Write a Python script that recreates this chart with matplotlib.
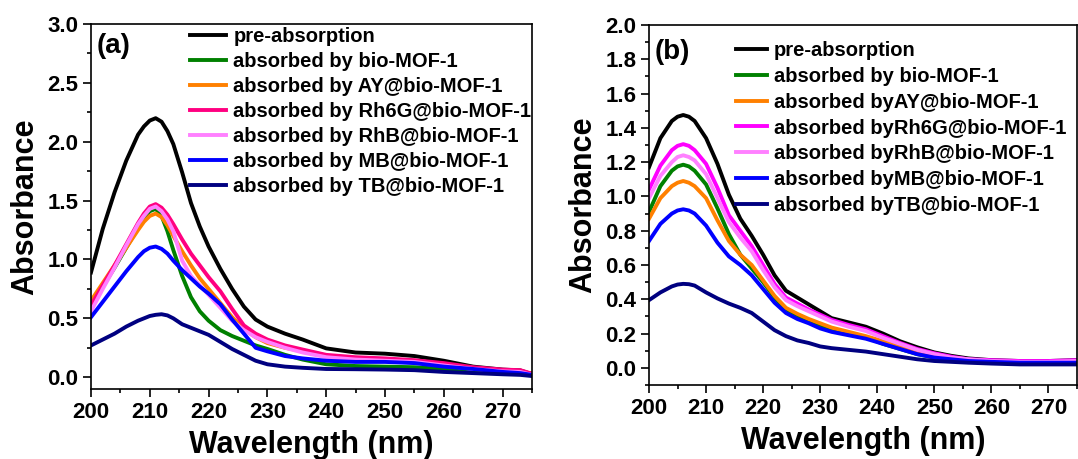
import matplotlib
matplotlib.use("Agg")
import matplotlib.pyplot as plt
from matplotlib.ticker import MultipleLocator, FormatStrFormatter

plt.rcParams['font.family'] = ['Liberation Sans', 'DejaVu Sans']
plt.rcParams['font.weight'] = 'bold'

# ---- panel (a) data ----
wl_a = [200, 202, 204, 206, 208, 209, 210, 211, 212, 213, 214, 215.5, 217, 218.5, 220,
        222, 224, 226, 228, 230, 233, 236, 240, 245, 250, 255, 260, 265, 270, 273, 275]
pre_a = [0.89, 1.26, 1.57, 1.84, 2.06, 2.13, 2.18, 2.20, 2.17, 2.09, 1.98, 1.74, 1.48, 1.28, 1.11,
         0.92, 0.75, 0.60, 0.49, 0.43, 0.37, 0.32, 0.245, 0.21, 0.20, 0.18, 0.14, 0.09, 0.065, 0.058, 0.025]
bio_a = [0.60, 0.77, 0.93, 1.10, 1.27, 1.35, 1.41, 1.43, 1.37, 1.24, 1.08, 0.86, 0.68, 0.56, 0.48,
         0.40, 0.35, 0.31, 0.27, 0.24, 0.19, 0.15, 0.11, 0.095, 0.09, 0.085, 0.07, 0.055, 0.04, 0.035, 0.035]
ay_a = [0.65, 0.80, 0.95, 1.10, 1.25, 1.32, 1.37, 1.39, 1.36, 1.29, 1.20, 1.07, 0.95, 0.84, 0.75,
        0.63, 0.51, 0.41, 0.34, 0.29, 0.25, 0.22, 0.18, 0.16, 0.15, 0.14, 0.11, 0.08, 0.06, 0.05, 0.03]
rh6g_a = [0.61, 0.78, 0.95, 1.13, 1.31, 1.39, 1.45, 1.47, 1.44, 1.38, 1.30, 1.17, 1.05, 0.95, 0.85,
          0.73, 0.58, 0.44, 0.37, 0.32, 0.27, 0.235, 0.19, 0.17, 0.16, 0.145, 0.12, 0.085, 0.065, 0.06, 0.03]
rhb_a = [0.56, 0.75, 0.93, 1.12, 1.30, 1.37, 1.43, 1.45, 1.41, 1.34, 1.24, 0.99, 0.86, 0.78, 0.70,
         0.59, 0.48, 0.40, 0.34, 0.30, 0.25, 0.21, 0.17, 0.15, 0.14, 0.13, 0.10, 0.07, 0.05, 0.045, 0.02]
mb_a = [0.51, 0.64, 0.77, 0.90, 1.02, 1.07, 1.10, 1.11, 1.09, 1.05, 0.99, 0.91, 0.84, 0.77, 0.71,
        0.62, 0.49, 0.37, 0.25, 0.22, 0.18, 0.16, 0.14, 0.13, 0.13, 0.12, 0.09, 0.07, 0.045, 0.035, 0.02]
tb_a = [0.27, 0.32, 0.37, 0.43, 0.48, 0.50, 0.52, 0.53, 0.535, 0.525, 0.50, 0.45, 0.42, 0.39, 0.36,
        0.30, 0.24, 0.19, 0.14, 0.11, 0.09, 0.08, 0.07, 0.068, 0.065, 0.06, 0.045, 0.035, 0.025, 0.02, 0.01]

# ---- panel (b) data ----
wl_b = [200, 202, 204, 205, 206, 207, 208, 210, 212, 214, 216, 218, 220, 222, 224, 226, 228,
        230, 232, 235, 238, 241, 244, 247, 250, 253, 256, 260, 265, 270, 275]
pre_b = [1.17, 1.34, 1.44, 1.465, 1.475, 1.465, 1.44, 1.34, 1.19, 1.01, 0.87, 0.77, 0.66, 0.54, 0.45, 0.41, 0.37,
         0.33, 0.29, 0.265, 0.24, 0.20, 0.155, 0.12, 0.09, 0.07, 0.055, 0.045, 0.04, 0.04, 0.045]
bio_b = [0.91, 1.06, 1.15, 1.175, 1.185, 1.175, 1.15, 1.07, 0.93, 0.78, 0.66, 0.58, 0.50, 0.41, 0.34, 0.30, 0.27,
         0.245, 0.22, 0.20, 0.18, 0.14, 0.11, 0.08, 0.06, 0.05, 0.04, 0.035, 0.03, 0.03, 0.03]
ay_b = [0.87, 0.99, 1.06, 1.08, 1.09, 1.08, 1.06, 0.99, 0.86, 0.74, 0.66, 0.60, 0.51, 0.42, 0.35, 0.315, 0.285,
        0.26, 0.235, 0.21, 0.185, 0.155, 0.125, 0.095, 0.07, 0.055, 0.045, 0.035, 0.03, 0.03, 0.035]
rh6g_b = [1.04, 1.18, 1.27, 1.295, 1.305, 1.295, 1.27, 1.19, 1.05, 0.89, 0.80, 0.71, 0.60, 0.49, 0.41, 0.375, 0.34,
          0.31, 0.28, 0.25, 0.225, 0.185, 0.145, 0.11, 0.085, 0.065, 0.05, 0.045, 0.04, 0.04, 0.045]
rhb_b = [0.99, 1.12, 1.20, 1.23, 1.24, 1.23, 1.21, 1.13, 0.99, 0.85, 0.76, 0.68, 0.57, 0.47, 0.395, 0.36, 0.33,
         0.30, 0.27, 0.24, 0.215, 0.175, 0.14, 0.105, 0.08, 0.06, 0.05, 0.04, 0.035, 0.035, 0.04]
mb_b = [0.74, 0.84, 0.90, 0.918, 0.925, 0.918, 0.90, 0.83, 0.73, 0.65, 0.60, 0.54, 0.46, 0.38, 0.32, 0.285, 0.26,
        0.23, 0.21, 0.19, 0.17, 0.14, 0.11, 0.08, 0.06, 0.05, 0.04, 0.035, 0.03, 0.03, 0.03]
tb_b = [0.395, 0.44, 0.475, 0.486, 0.49, 0.488, 0.48, 0.44, 0.405, 0.375, 0.35, 0.32, 0.27, 0.22, 0.185, 0.16, 0.145,
        0.125, 0.115, 0.105, 0.095, 0.08, 0.065, 0.05, 0.04, 0.035, 0.03, 0.025, 0.02, 0.02, 0.02]

labels_a = ["pre-absorption", "absorbed by bio-MOF-1", "absorbed by AY@bio-MOF-1",
            "absorbed by Rh6G@bio-MOF-1", "absorbed by RhB@bio-MOF-1",
            "absorbed by MB@bio-MOF-1", "absorbed by TB@bio-MOF-1"]
labels_b = ["pre-absorption", "absorbed by bio-MOF-1", "absorbed byAY@bio-MOF-1",
            "absorbed byRh6G@bio-MOF-1", "absorbed byRhB@bio-MOF-1",
            "absorbed byMB@bio-MOF-1", "absorbed byTB@bio-MOF-1"]
colors_a = ["#000000", "#008000", "#FF8000", "#FF0080", "#FF80FF", "#0000FF", "#000080"]
colors_b = ["#000000", "#008000", "#FF8000", "#FF00FF", "#FF80FF", "#0000FF", "#000080"]

fig = plt.figure(figsize=(10.78, 4.59), dpi=100)
ax1 = fig.add_axes([91/1078, 70/459, 441/1078, 365/459])
ax2 = fig.add_axes([649/1078, 74/459, 428/1078, 360/459])


def style_axis(ax, ymax, ymajor, yminor):
    ax.set_xlim(200, 275)
    ax.set_ylim(-0.1, ymax)
    ax.xaxis.set_major_locator(MultipleLocator(10))
    ax.xaxis.set_minor_locator(MultipleLocator(5))
    ax.yaxis.set_major_locator(MultipleLocator(ymajor))
    ax.yaxis.set_minor_locator(MultipleLocator(yminor))
    ax.yaxis.set_major_formatter(FormatStrFormatter('%.1f'))
    ax.tick_params(which='both', direction='out', width=1.2, labelsize=16)
    ax.tick_params(which='major', length=5.5)
    ax.tick_params(which='minor', length=3)
    for sp in ax.spines.values():
        sp.set_linewidth(1.2)
    ax.set_xlabel("Wavelength (nm)", fontsize=22, fontweight='bold', labelpad=5.5)
    ax.set_ylabel("Absorbance", fontsize=22, fontweight='bold', labelpad=5)


series_a = [pre_a, bio_a, ay_a, rh6g_a, rhb_a, mb_a, tb_a]
series_b = [pre_b, bio_b, ay_b, rh6g_b, rhb_b, mb_b, tb_b]

for ys, c, lab in zip(series_a, colors_a, labels_a):
    ax1.plot(wl_a, ys, color=c, lw=2.8, label=lab, solid_joinstyle='round')
for ys, c, lab in zip(series_b, colors_b, labels_b):
    ax2.plot(wl_b, ys, color=c, lw=2.8, label=lab, solid_joinstyle='round')

style_axis(ax1, 3.0, 0.5, 0.25)
style_axis(ax2, 2.0, 0.2, 0.1)

ax1.text(0.012, 0.975, "(a)", transform=ax1.transAxes, fontsize=20,
         fontweight='bold', va='top', ha='left')
ax2.text(0.014, 0.962, "(b)", transform=ax2.transAxes, fontsize=20,
         fontweight='bold', va='top', ha='left')

ax1.legend(loc='upper left', bbox_to_anchor=(190/1078, 1 - 27/459),
           bbox_transform=fig.transFigure, frameon=False,
           handlelength=1.8, handletextpad=0.35, labelspacing=0.3,
           borderpad=0, borderaxespad=0, prop={'weight': 'bold', 'size': 14.5})
ax2.legend(loc='upper left', bbox_to_anchor=(736/1078, 1 - 41/459),
           bbox_transform=fig.transFigure, frameon=False,
           handlelength=1.55, handletextpad=0.32, labelspacing=0.34,
           borderpad=0, borderaxespad=0, prop={'weight': 'bold', 'size': 14.5})

fig.savefig("out.png", dpi=100)
